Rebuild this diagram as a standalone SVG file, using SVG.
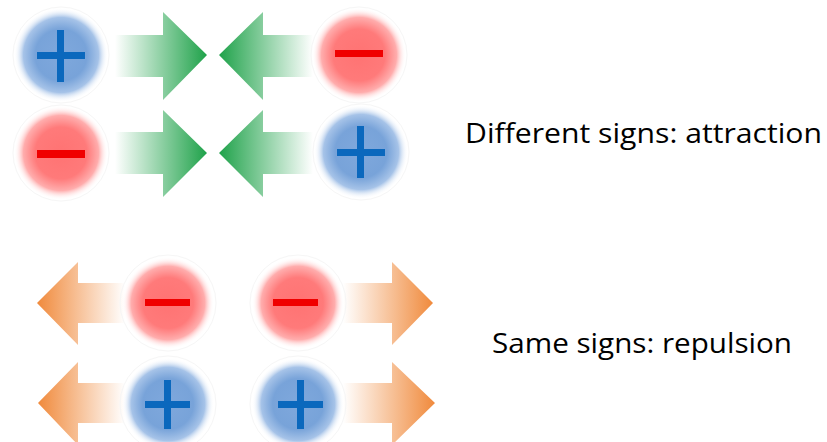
<svg xmlns="http://www.w3.org/2000/svg" width="827" height="442" viewBox="0 0 827 442">
<defs>
<radialGradient id="gBlue" cx="0.5" cy="0.5" r="0.5">
<stop offset="0" stop-color="#7fa8dc"/>
<stop offset="0.55" stop-color="#78a3d9"/>
<stop offset="0.8" stop-color="#a6c3e8"/>
<stop offset="1" stop-color="#ffffff" stop-opacity="0"/>
</radialGradient>
<radialGradient id="gRed" cx="0.5" cy="0.5" r="0.5">
<stop offset="0" stop-color="#ff7373"/>
<stop offset="0.55" stop-color="#ff7a7a"/>
<stop offset="0.8" stop-color="#ffadad"/>
<stop offset="1" stop-color="#ffffff" stop-opacity="0"/>
</radialGradient>
<linearGradient id="gGreenR" x1="0" y1="0" x2="1" y2="0">
<stop offset="0" stop-color="#1fa24a" stop-opacity="0"/>
<stop offset="0.5" stop-color="#1fa24a" stop-opacity="0.5"/>
<stop offset="1" stop-color="#1fa24a" stop-opacity="1"/>
</linearGradient>
<linearGradient id="gGreenL" x1="1" y1="0" x2="0" y2="0">
<stop offset="0" stop-color="#1fa24a" stop-opacity="0"/>
<stop offset="0.5" stop-color="#1fa24a" stop-opacity="0.5"/>
<stop offset="1" stop-color="#1fa24a" stop-opacity="1"/>
</linearGradient>
<linearGradient id="gOrangeL" x1="1" y1="0" x2="0" y2="0">
<stop offset="0" stop-color="#f08a3c" stop-opacity="0"/>
<stop offset="0.5" stop-color="#f08a3c" stop-opacity="0.5"/>
<stop offset="1" stop-color="#f08a3c" stop-opacity="1"/>
</linearGradient>
<linearGradient id="gOrangeR" x1="0" y1="0" x2="1" y2="0">
<stop offset="0" stop-color="#f08a3c" stop-opacity="0"/>
<stop offset="0.5" stop-color="#f08a3c" stop-opacity="0.5"/>
<stop offset="1" stop-color="#f08a3c" stop-opacity="1"/>
</linearGradient>
</defs>
<style>
.blue{fill:url(#gBlue)}
.red{fill:url(#gRed)}
.ring{fill:none;stroke:#f6f6f6;stroke-width:1}
.plus{fill:#0b68bd}
.minus{fill:#f00000}
.lbl{font-family:"Open Sans","Noto Sans","Liberation Sans",sans-serif;font-size:28px;fill:#000}
</style>
<rect width="827" height="442" fill="#ffffff"/>
<g id="arrows">
<path d="M115,35 H163 V12 L207,55 L163,100 V77 H115 Z" fill="url(#gGreenR)"/>
<path d="M313,35 H263 V12 L219,55 L263,100 V77 H313 Z" fill="url(#gGreenL)"/>
<path d="M115,132 H163 V110 L207,153 L163,197 V174 H115 Z" fill="url(#gGreenR)"/>
<path d="M313,132 H263 V110 L219,153 L263,197 V174 H313 Z" fill="url(#gGreenL)"/>
<path d="M125,283 H78 V262 L37,303 L78,345 V323 H125 Z" fill="url(#gOrangeL)"/>
<path d="M343,283 H392 V262 L433,303 L392,345 V323 H343 Z" fill="url(#gOrangeR)"/>
<path d="M125,383 H78 V362 L38,403 L78,445 V423 H125 Z" fill="url(#gOrangeL)"/>
<path d="M343,383 H392 V362 L435,403 L392,445 V423 H343 Z" fill="url(#gOrangeR)"/>
</g>
<g id="pos1">
<circle class="ring" cx="61" cy="55" r="48"/>
<circle class="blue" cx="61" cy="55" r="47"/>
<rect class="plus" x="37" y="52" width="48" height="7"/>
<rect class="plus" x="57" y="30" width="7" height="52"/>
</g>
<g id="neg1">
<circle class="ring" cx="359" cy="55" r="48"/>
<circle class="red" cx="359" cy="55" r="47"/>
<rect class="minus" x="335" y="50" width="48" height="7"/>
</g>
<g id="neg2">
<circle class="ring" cx="61" cy="153" r="48"/>
<circle class="red" cx="61" cy="153" r="47"/>
<rect class="minus" x="37" y="150" width="48" height="8"/>
</g>
<g id="pos2">
<circle class="ring" cx="361" cy="152" r="48"/>
<circle class="blue" cx="361" cy="152" r="47"/>
<rect class="plus" x="337" y="149" width="48" height="7"/>
<rect class="plus" x="357" y="126" width="7" height="52"/>
</g>
<g id="neg3">
<circle class="ring" cx="168" cy="303" r="48"/>
<circle class="red" cx="168" cy="303" r="46"/>
<rect class="minus" x="145" y="299" width="45" height="7"/>
</g>
<g id="neg4">
<circle class="ring" cx="298" cy="303" r="48"/>
<circle class="red" cx="298" cy="303" r="46"/>
<rect class="minus" x="273" y="299" width="45" height="7"/>
</g>
<g id="pos3">
<circle class="ring" cx="168" cy="404" r="48"/>
<circle class="blue" cx="168" cy="404" r="46"/>
<rect class="plus" x="145" y="401" width="45" height="7"/>
<rect class="plus" x="164" y="380" width="7" height="49"/>
</g>
<g id="pos4">
<circle class="ring" cx="298" cy="404" r="48"/>
<circle class="blue" cx="298" cy="404" r="46"/>
<rect class="plus" x="278" y="401" width="45" height="7"/>
<rect class="plus" x="297" y="380" width="7" height="49"/>
</g>
<g id="label-attraction">
<text class="lbl" x="465" y="143" textLength="357" lengthAdjust="spacingAndGlyphs">Different signs: attraction</text>
</g>
<g id="label-repulsion">
<text class="lbl" x="492" y="353" textLength="300" lengthAdjust="spacingAndGlyphs">Same signs: repulsion</text>
</g>
</svg>
